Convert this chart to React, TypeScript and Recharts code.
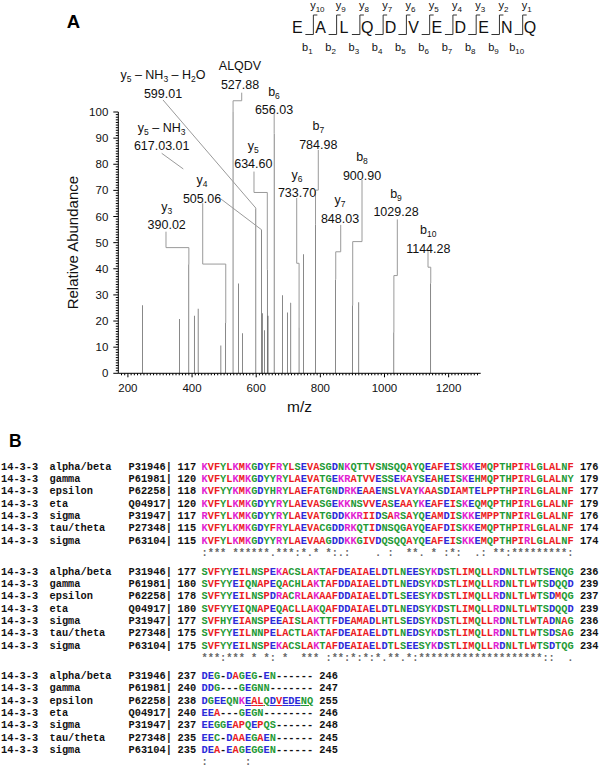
import React from 'react';
import { ComposedChart, Bar, XAxis, YAxis, ReferenceLine, ReferenceDot } from 'recharts';

// MS/MS spectrum (panel A)
const PEAK_MZ = [245, 361, 390.02, 407, 419, 490, 505.06, 527.88, 545, 557, 599.01, 617.03, 619, 626, 634.6, 637, 656.03, 682, 697, 708, 733.7, 747, 784.98, 848.03, 900.9, 920, 1029.28, 1144.28];
const PEAK_ABUNDANCE = [26, 20.8, 41.7, 22, 24.7, 10.6, 19.3, 100, 34.4, 15.3, 63.2, 54.9, 23, 16.5, 39.6, 22, 91.8, 29.9, 23.3, 27, 17.6, 45.6, 56.8, 35.9, 26, 27.2, 15.7, 34.5];

const X_TICKS = Array.from({ length: 112 }, (_, i) => 180 + i * 10);
const Y_TICKS = Array.from({ length: 101 }, (_, i) => i);

// fragment labels: text lines, position of the number line, connector paths (data units)
const ANNOTATIONS = [
  { peak: 599.01, text: ['y_5 – NH_3 – H_2O', '599.01'], at: [309.4, 107.2], paths: [[[309.4, 104.6]]] },
  { peak: 617.03, text: ['y_5 – NH_3', '617.03.01'], at: [305.3, 87.1], paths: [[[305.3, 84.2], [372.7, 78.2]], [[490.2, 66.7]]] },
  { peak: 527.88, text: ['ALQDV', '527.88'], at: [549.5, 110.6], paths: [[[554.8, 107.4], [554.8, 104.3], [527.88, 104.3]]] },
  { peak: 656.03, text: ['b_6', '656.03'], at: [655.5, 100.8], paths: [[[656.03, 99.5]]] },
  { peak: 634.6, text: ['y_5', '634.60'], at: [591, 80.1], paths: [[[593.1, 77.2], [593.1, 69.2], [634.6, 69.2]]] },
  { peak: 505.06, text: ['y_4', '505.06'], at: [431, 67], paths: [[[433.2, 65.1], [433.2, 41.8], [505.06, 41.8]]] },
  { peak: 390.02, text: ['y_3', '390.02'], at: [320.9, 56.8], paths: [[[318.7, 54.2], [318.7, 48.1], [390.02, 48.1]]] },
  { peak: 733.7, text: ['y_6', '733.70'], at: [727.2, 69.1], paths: [[[726.3, 67.1], [726.3, 42.1], [733.7, 42.1]]] },
  { peak: 784.98, text: ['b_7', '784.98'], at: [793.6, 87.6], paths: [[[793.6, 85.5], [793.6, 70.1], [784.98, 70.1]]] },
  { peak: 900.9, text: ['b_8', '900.90'], at: [929.9, 75.8], paths: [[[929.9, 74], [929.9, 50.4], [900.9, 50.4]]] },
  { peak: 848.03, text: ['y_7', '848.03'], at: [861.3, 59.3], paths: [[[863.5, 56.8], [863.5, 46.5], [848.03, 46.5]]] },
  { peak: 1029.28, text: ['b_9', '1029.28'], at: [1035.9, 61.8], paths: [[[1040, 58.9], [1040, 37.4], [1029.28, 37.4]]] },
  { peak: 1144.28, text: ['b_10', '1144.28'], at: [1136.6, 47.8], paths: [[[1135.7, 47.2], [1135.7, 40.6], [1144.28, 40.6]]] },
];

const PEPTIDE = 'EALQDVEDENQ';

// sequence alignment (panel B)
const ALIGN_NAMES = ['alpha/beta', 'gamma', 'epsilon', 'eta', 'sigma', 'tau/theta', 'sigma'];
const ALIGN_IDS = ['P31946', 'P61981', 'P62258', 'Q04917', 'P31947', 'P27348', 'P63104'];
const BLOCK1 = [
  'KVFYLKMKGDYFRYLSEVASGDNKQTTVSNSQQAYQEAFEISKKEMQPTHPIRLGLALNF',
  'KVFYLKMKGDYYRYLAEVATGEKRATVVESSEKAYSEAHEISKEHMQPTHPIRLGLALNY',
  'KVFYYKMKGDYHRYLAEFATGNDRKEAAENSLVAYKAASDIAMTELPPTHPIRLGLALNF',
  'KVFYLKMKGDYYRYLAEVASGEKKNSVVEASEAAYKEAFEISKEQMQPTHPIRLGLALNF',
  'RVFYLKMKGDYYRYLAEVATGDDKKRIIDSARSAYQEAMDISKKEMPPTNPIRLGLALNF',
  'KVFYLKMKGDYFRYLAEVACGDDRKQTIDNSQGAYQEAFDISKKEMQPTHPIRLGLALNF',
  'KVFYLKMKGDYYRYLAEVAAGDDKKGIVDQSQQAYQEAFEISKKEMQPTHPIRLGLALNF',
];
const BLOCK2 = [
  'SVFYYEILNSPEKACSLAKTAFDEAIAELDTLNEESYKDSTLIMQLLRDNLTLWTSENQG',
  'SVFYYEIQNAPEQACHLAKTAFDDAIAELDTLNEDSYKDSTLIMQLLRDNLTLWTSDQQD',
  'SVFYYEILNSPDRACRLAKAAFDDAIAELDTLSEESYKDSTLIMQLLRDNLTLWTSDMQG',
  'SVFYYEIQNAPEQACLLAKQAFDDAIAELDTLNEDSYKDSTLIMQLLRDNLTLWTSDQQD',
  'SVFHYEIANSPEEAISLAKTTFDEAMADLHTLSEDSYKDSTLIMQLLRDNLTLWTADNAG',
  'SVFYYEILNNPELACTLAKTAFDEAIAELDTLNEDSYKDSTLIMQLLRDNLTLWTSDSAG',
  'SVFYYEILNSPEKACSLAKTAFDEAIAELDTLSEESYKDSTLIMQLLRDNLTLWTSDTQG',
];
const BLOCK3 = [
  'DEG-DAGEG-EN------',
  'DDG---GEGNN-------',
  'DGEEQNKEALQDVEDENQ',
  'EEA---GEGN--------',
  'EEGGEAPQEPQS------',
  'EEC-DAAEGAEN------',
  'DEA-EAGEGGEN------',
];
const BLOCK_STARTS = [
  [117, 120, 118, 120, 117, 115, 115],
  [177, 180, 178, 180, 177, 175, 175],
  [237, 240, 238, 240, 237, 235, 235],
];
const BLOCK_ENDS = [
  [176, 179, 177, 179, 176, 174, 174],
  [236, 239, 237, 239, 236, 234, 234],
  [246, 247, 255, 246, 248, 245, 245],
];
const CONSERVATION = [
  ':*** ******.***:*.* *:.:    . :  **. * :*:  .: **:*********:',
  '***:*** * *: *  *** :**:*:*:*.**.*:********************::  .',
  ':      :          ',
];
const UNDERLINE = { block: 2, row: 2, from: 7, to: 17 };

const FONT = 'Arial, "Liberation Sans", sans-serif';
const MONO = '"Courier New", "Liberation Mono", monospace';

const RES_COLOR: Record<string, string> = {};
'AVFPMILW'.split('').forEach((c) => (RES_COLOR[c] = '#ec1c24'));
'DE'.split('').forEach((c) => (RES_COLOR[c] = '#2b2bd9'));
'RK'.split('').forEach((c) => (RES_COLOR[c] = '#e21fd2'));
'STYHCNGQ'.split('').forEach((c) => (RES_COLOR[c] = '#1f9a36'));

const rich = (s: string, sub: number) => {
  const parts = s.split(/(_\d+)/).filter(Boolean);
  let shifted = false;
  return parts.map((p, i) => {
    if (p.startsWith('_')) {
      shifted = true;
      return <tspan key={i} fontSize={sub} dy={3}>{p.slice(1)}</tspan>;
    }
    const dy = shifted ? -3 : 0;
    shifted = false;
    return <tspan key={i} dy={dy}>{p}</tspan>;
  });
};

const XTick = (props: any) => {
  const { x, y, payload } = props;
  const major = payload.value % 200 === 0;
  return (
    <g>
      <line x1={x} x2={x} y1={y} y2={y + (major ? 4 : 2)} stroke="#000" strokeWidth={1} />
      {major && (
        <text x={x} y={y + 19} textAnchor="middle" fontSize={11.5} fontFamily={FONT} fill="#111">{payload.value}</text>
      )}
    </g>
  );
};

const YTick = (props: any) => {
  const { x, y, payload } = props;
  const major = payload.value % 10 === 0;
  return (
    <g>
      <line x1={x} x2={x - (major ? 5 : 2.5)} y1={y} y2={y} stroke="#000" strokeWidth={1} />
      {major && (
        <text x={x - 10} y={y + 4} textAnchor="end" fontSize={11.5} fontFamily={FONT} fill="#111">{payload.value}</text>
      )}
    </g>
  );
};

const PeakLabel = (props: any) => {
  const { cx, cy, text } = props;
  return (
    <g fontFamily={FONT} fontSize={12.5} fill="#111">
      <text x={cx} y={cy - 18.5 + 4.5} textAnchor="middle">{rich(text[0], 8.5)}</text>
      <text x={cx} y={cy + 4.5} textAnchor="middle">{text[1]}</text>
    </g>
  );
};

const Spectrum = () => {
  const data = PEAK_MZ.map((mz, i) => ({ mz, abundance: PEAK_ABUNDANCE[i] }));
  const segments: { key: string; a: number[]; b: number[] }[] = [];
  ANNOTATIONS.forEach((an, k) => {
    const top = [an.peak, PEAK_ABUNDANCE[PEAK_MZ.indexOf(an.peak)]];
    an.paths.forEach((path, j) => {
      const pts = j === an.paths.length - 1 ? [...path, top] : path;
      for (let i = 0; i < pts.length - 1; i++) {
        segments.push({ key: `${k}-${j}-${i}`, a: pts[i], b: pts[i + 1] });
      }
    });
  });
  return (
    <ComposedChart width={600} height={440} data={data} margin={{ top: 112, right: 119.3, bottom: 36.7, left: 78.3 }}>
      <XAxis
        type="number"
        dataKey="mz"
        domain={[170, 1300]}
        allowDataOverflow
        ticks={X_TICKS}
        interval={0}
        height={30}
        tickSize={0}
        tickMargin={0}
        tickLine={false}
        tick={<XTick />}
        axisLine={{ stroke: '#000' }}
        label={{ value: 'm/z', position: 'insideTop', offset: 28, style: { fontSize: 15.5, fontFamily: FONT, fill: '#111' } }}
      />
      <YAxis
        type="number"
        domain={[0, 100]}
        allowDataOverflow
        ticks={Y_TICKS}
        interval={0}
        width={40}
        tickSize={0}
        tickMargin={0}
        tickLine={false}
        tick={<YTick />}
        axisLine={{ stroke: '#000' }}
        label={{ value: 'Relative Abundance', angle: -90, position: 'insideRight', offset: 46, style: { textAnchor: 'middle', fontSize: 15, fontFamily: FONT, fill: '#111' } }}
      />
      {segments.map((s) => (
        <ReferenceLine
          key={s.key}
          segment={[{ x: s.a[0], y: s.a[1] }, { x: s.b[0], y: s.b[1] }]}
          stroke="#9a9a9a"
          strokeWidth={1}
          ifOverflow="visible"
        />
      ))}
      <Bar dataKey="abundance" barSize={1.3} fill="#2e2e2e" isAnimationActive={false} />
      {ANNOTATIONS.map((an, k) => (
        <ReferenceDot
          key={`lab-${k}`}
          x={an.at[0]}
          y={an.at[1]}
          r={0}
          ifOverflow="visible"
          shape={(p: any) => <PeakLabel cx={p.cx} cy={p.cy} text={an.text} />}
        />
      ))}
    </ComposedChart>
  );
};

const PeptideMap = () => {
  const x0 = 297.4;
  const step = 23.26;
  return (
    <svg width={600} height={60} style={{ position: 'absolute', left: 0, top: 0 }}>
      <text x={73.5} y={28} textAnchor="middle" fontSize={18.5} fontWeight="bold" fontFamily={FONT}>A</text>
      {PEPTIDE.split('').map((c, i) => (
        <text key={c + i} x={x0 + i * step} y={32.5} textAnchor="middle" fontSize={16} fontFamily={FONT} fill="#111">{c}</text>
      ))}
      {PEPTIDE.split('').slice(1).map((_, i) => {
        const vx = x0 + (i + 1) * step - 7.3;
        return (
          <g key={i}>
            <polyline points={`${vx - 8},34.5 ${vx},34.5 ${vx},15 ${vx + 4},15`} fill="none" stroke="#333" strokeWidth={1} />
            <text x={vx + 4} y={9} textAnchor="middle" fontSize={11} fontFamily={FONT} fill="#111">{rich(`y_${10 - i}`, 8)}</text>
            <text x={vx - 6} y={51} textAnchor="middle" fontSize={11} fontFamily={FONT} fill="#111">{rich(`b_${i + 1}`, 8)}</text>
          </g>
        );
      })}
    </svg>
  );
};

const COL_X = [1, 49.5, 128.5, 177.5, 201.5];
const BLOCK_Y = [466.7, 571.7, 676];
const ROW_H = 12.33;

const Alignment = () => {
  const blocks = [BLOCK1, BLOCK2, BLOCK3];
  const base: React.CSSProperties = { position: 'absolute', fontFamily: MONO, fontSize: 10.33, fontWeight: 'bold', lineHeight: '12px', whiteSpace: 'pre', color: '#111' };
  return (
    <>
      <div style={{ position: 'absolute', left: 9, top: 432, fontFamily: FONT, fontSize: 17.5, fontWeight: 'bold', lineHeight: '18px' }}>B</div>
      {blocks.map((rows, b) => (
        <React.Fragment key={b}>
          {rows.map((seq, r) => {
            const top = BLOCK_Y[b] + r * ROW_H - 6;
            return (
              <React.Fragment key={r}>
                <div style={{ ...base, left: COL_X[0], top }}>14-3-3</div>
                <div style={{ ...base, left: COL_X[1], top }}>{ALIGN_NAMES[r]}</div>
                <div style={{ ...base, left: COL_X[2], top }}>{ALIGN_IDS[r]}|</div>
                <div style={{ ...base, left: COL_X[3], top }}>{BLOCK_STARTS[b][r]}</div>
                <div style={{ ...base, left: COL_X[4], top }}>
                  {seq.split('').map((c, i) => {
                    const ul = b === UNDERLINE.block && r === UNDERLINE.row && i >= UNDERLINE.from && i <= UNDERLINE.to;
                    return (
                      <span key={i} style={{ color: RES_COLOR[c] || '#111', textDecoration: ul ? 'underline' : 'none' }}>{c}</span>
                    );
                  })}
                  <span> {BLOCK_ENDS[b][r]}</span>
                </div>
              </React.Fragment>
            );
          })}
          <div style={{ ...base, left: COL_X[4], top: BLOCK_Y[b] + 7 * ROW_H - 6, color: '#666' }}>{CONSERVATION[b]}</div>
        </React.Fragment>
      ))}
    </>
  );
};

export default function App() {
  return (
    <div style={{ position: 'absolute', left: 0, top: 0, width: 600, height: 767, background: '#fff', overflow: 'hidden' }}>
      <div style={{ position: 'absolute', left: 0, top: 0 }}>
        <Spectrum />
      </div>
      <PeptideMap />
      <Alignment />
    </div>
  );
}
